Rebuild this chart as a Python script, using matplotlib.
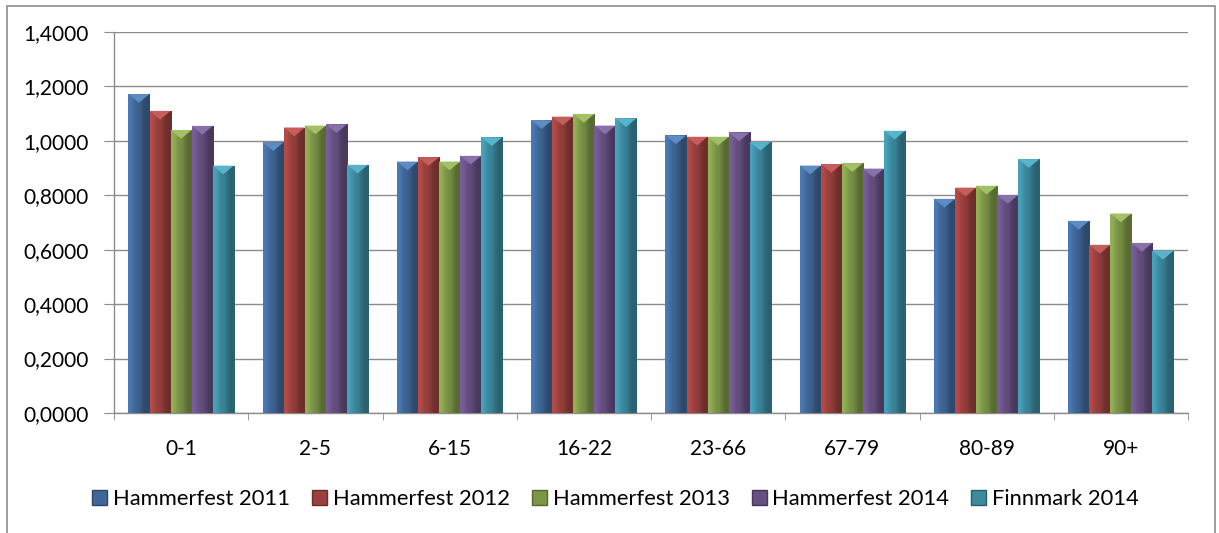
import matplotlib
matplotlib.use("Agg")
import matplotlib.pyplot as plt
import matplotlib.patches as mpatches
from matplotlib.colors import to_rgb
import numpy as np

# Data
age_groups = ["0-1", "2-5", "6-15", "16-22", "23-66", "67-79", "80-89", "90+"]
series_names = ["Hammerfest 2011", "Hammerfest 2012", "Hammerfest 2013",
                "Hammerfest 2014", "Finnmark 2014"]
hammerfest_2011 = [1.172, 0.995, 0.924, 1.076, 1.020, 0.909, 0.787, 0.706]
hammerfest_2012 = [1.110, 1.049, 0.940, 1.089, 1.015, 0.915, 0.828, 0.618]
hammerfest_2013 = [1.040, 1.056, 0.924, 1.099, 1.015, 0.918, 0.835, 0.733]
hammerfest_2014 = [1.055, 1.061, 0.945, 1.056, 1.031, 0.898, 0.801, 0.625]
finnmark_2014 = [0.909, 0.912, 1.013, 1.083, 0.996, 1.037, 0.933, 0.596]
yticks = [0.0, 0.2, 0.4, 0.6, 0.8, 1.0, 1.2, 1.4]

series = [hammerfest_2011, hammerfest_2012, hammerfest_2013, hammerfest_2014, finnmark_2014]
colors = ["#4F81BD", "#C0504D", "#9BBB59", "#8064A2", "#4BACC6"]

plt.rcParams['font.family'] = ['Lato', 'DejaVu Sans']
FS = 15

fig = plt.figure(figsize=(12.19, 5.33), dpi=100)
ax = fig.add_axes([114 / 1219, 1 - 413 / 533, (1188 - 114) / 1219, (413 - 32) / 533])

# outer chart frame
fig.patches.append(mpatches.Rectangle((7 / 1219, -0.1), 1208 / 1219, 1.1 - 6 / 533,
                                      transform=fig.transFigure, fill=False,
                                      edgecolor="#8c8c8c", lw=1.2))


def shade(c, f):
    r = np.array(to_rgb(c))
    if f < 1:
        return tuple(r * f)
    return tuple(r + (1 - r) * (f - 1))


x = np.arange(len(age_groups))
bw = 0.157
n = len(series)
# left-to-right brightness across a bar (bevel look)
profile = np.array([0.95, 0.92, 0.86, 0.80, 0.77, 0.75, 0.70, 0.62, 0.58, 0.56, 0.58])

for i, (vals, col) in enumerate(zip(series, colors)):
    pos = x + (i - (n - 1) / 2) * bw
    bars = ax.bar(pos, vals, width=bw, color=col, edgecolor="none", zorder=2,
                  label=series_names[i])
    grad = np.array([[shade(col, f) for f in profile]])
    for b in bars:
        bx, bwid, bh = b.get_x(), b.get_width(), b.get_height()
        im = ax.imshow(grad, extent=[bx, bx + bwid, 0, bh], aspect="auto",
                       interpolation="bicubic", zorder=3)
        im.set_clip_path(b)
        d = 0.032
        tri = mpatches.Polygon([[bx, bh], [bx + bwid, bh], [bx + bwid / 2, bh - d]],
                               closed=True, facecolor=shade(col, 1.08),
                               edgecolor="none", zorder=4)
        ax.add_patch(tri)

ax.set_xlim(-0.5, len(age_groups) - 0.5)
ax.set_ylim(0, 1.4)
ax.set_yticks(yticks)
ax.set_yticklabels([f"{v:.4f}".replace(".", ",") for v in yticks], fontsize=FS)
ax.set_xticks(x)
ax.set_xticklabels(age_groups, fontsize=FS)
ax.set_xticks(np.arange(len(age_groups) + 1) - 0.5, minor=True)
ax.tick_params(axis="x", which="major", length=0, pad=19)
ax.tick_params(axis="x", which="minor", length=5, color="#8c8c8c", direction="out")
ax.tick_params(axis="y", length=7, color="#8c8c8c", pad=11)

ax.grid(axis="y", color="#8c8c8c", lw=1.0, zorder=0)
ax.set_axisbelow(True)
for s in ["top", "right"]:
    ax.spines[s].set_visible(False)
for s in ["left", "bottom"]:
    ax.spines[s].set_color("#8c8c8c")
    ax.spines[s].set_linewidth(1.0)

handles = [mpatches.Patch(facecolor=shade(c, 0.8), edgecolor=shade(c, 0.55))
           for c in colors]
fig.legend(handles, series_names, loc="center", bbox_to_anchor=(0.505, 1 - 499 / 533),
           ncol=5, frameon=False, fontsize=15.8, handlelength=0.68, handleheight=0.68,
           handletextpad=0.27, columnspacing=1.0)

fig.savefig("out.png", dpi=100)
